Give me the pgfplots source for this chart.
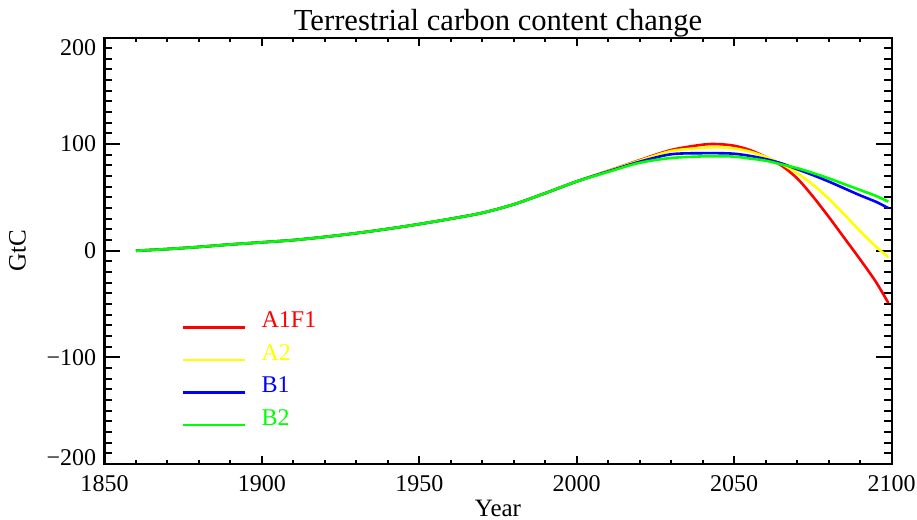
\documentclass[border=0pt]{standalone}
\usepackage{fontspec}
\setmainfont{Liberation Serif}
\usepackage{pgfplots}
\pgfplotsset{compat=1.18}
\definecolor{cR}{RGB}{255,0,0}
\definecolor{cY}{RGB}{255,255,0}
\definecolor{cB}{RGB}{0,0,255}
\definecolor{cG}{RGB}{0,255,0}
\begin{document}
\begin{tikzpicture}
\begin{axis}[name=ax, scale only axis, width=393.5pt, height=213.25pt,
 xmin=1850, xmax=2100, ymin=-200, ymax=200,
 xtick={1850,1900,1950,2000,2050,2100},
 xticklabels={1850,1900,1950,2000,2050,2100},
 ytick={-200,-100,0,100,200},
 yticklabels={\raisebox{3pt}[\height][\depth]{−200},−100,0,100,\raisebox{-5pt}[\height][\depth]{200}},
 minor x tick num=4, minor y tick num=9,
 tick align=inside,
 axis line style={line width=1pt},
 every tick/.style={black, line width=1pt},
 xtick style={/pgfplots/major tick length=4.25pt, /pgfplots/minor tick length=2.1pt},
 ytick style={/pgfplots/major tick length=7.85pt, /pgfplots/minor tick length=3.9pt},
 ticklabel style={font=\fontsize{12}{14}\selectfont},
 xticklabel style={yshift=-2.3pt},
 yticklabel style={xshift=-0.6pt},
 every axis title shift=0pt,
 title={Terrestrial carbon content change},
 title style={at={(rel axis cs:0.5,1.0176)}, anchor=base, font=\fontsize{15.3}{18}\selectfont},
 xlabel={Year},
 xlabel style={at={(rel axis cs:0.5,-0.1231)}, anchor=base, font=\fontsize{12.5}{14}\selectfont},
 ylabel={GtC},
 ylabel style={at={(rel axis cs:-0.1105,0.5)}, anchor=center, font=\fontsize{12.5}{14}\selectfont},
 legend style={at={(rel axis cs:0.0985,0.357)}, anchor=north west, draw=none, fill=none,
   inner sep=0pt, outer sep=0pt, row sep=7.9pt,
   nodes={inner sep=0pt, text height=7.9pt, text depth=0pt, font=\fontsize{12}{14}\selectfont},
   /tikz/every odd column/.style={column sep=7.5pt}},
 legend cell align=left,
 legend image code/.code={\draw[#1] (0pt,-3.8pt) -- (31pt,-3.8pt);},
]
\addplot[cR, line width=1.3pt, smooth] coordinates {
(1860,0) (1870,1.6) (1880,3.6) (1890,5.9) (1900,7.9) (1910,10) (1920,13) (1930,16.5)
(1940,20.5) (1950,25) (1960,30) (1970,35.5) (1980,43.5) (1990,54) (2000,65) (2010,75)
(2020,85) (2030,94.5) (2040,99.5) (2045,100) (2050,98.5) (2055,94.5) (2060,88) (2065,80)
(2070,68) (2075,51) (2080,32) (2085,12) (2090,-8) (2095,-29) (2099,-49)};
\addlegendentry{\textcolor{cR}{A1F1}}
\addplot[cY, line width=1.3pt, smooth] coordinates {
(1860,0) (1870,1.6) (1880,3.6) (1890,5.9) (1900,7.9) (1910,10) (1920,13) (1930,16.5)
(1940,20.5) (1950,25) (1960,30) (1970,35.5) (1980,43.5) (1990,54) (2000,65) (2010,75)
(2020,84.5) (2030,93.5) (2040,96.5) (2045,97) (2050,96) (2055,93) (2060,88) (2065,81.5)
(2070,73) (2075,62) (2080,49) (2085,34) (2090,18.5) (2095,4) (2099,-6)};
\addlegendentry{\textcolor{cY}{A2}}
\addplot[cB, line width=1.3pt, smooth] coordinates {
(1860,0) (1870,1.6) (1880,3.6) (1890,5.9) (1900,7.9) (1910,10) (1920,13) (1930,16.5)
(1940,20.5) (1950,25) (1960,30) (1970,35.5) (1980,43.5) (1990,54) (2000,65) (2010,74.5)
(2020,83.5) (2030,90.5) (2040,91.5) (2045,91.5) (2050,91) (2055,89) (2060,86) (2065,82)
(2070,76.5) (2075,71) (2080,65) (2085,58.5) (2090,52) (2095,46) (2099,40)};
\addlegendentry{\textcolor{cB}{B1}}
\addplot[cG, line width=1.3pt, smooth] coordinates {
(1860,0) (1870,1.6) (1880,3.6) (1890,5.9) (1900,7.9) (1910,10) (1920,13) (1930,16.5)
(1940,20.5) (1950,25) (1960,30) (1970,35.5) (1980,43.5) (1990,54) (2000,65) (2010,74)
(2020,82.5) (2030,87) (2040,88.5) (2045,88.5) (2050,88.3) (2055,86.5) (2060,84.5) (2065,81)
(2070,77.5) (2075,73) (2080,68) (2085,62.5) (2090,57) (2095,51.5) (2099,46)};
\addlegendentry{\textcolor{cG}{B2}}
\end{axis}
\pgfresetboundingbox
\path ([shift={(-52.25pt,-27.5pt)}]ax.south west) rectangle ([shift={(12.75pt,18.75pt)}]ax.north east);
\end{tikzpicture}
\end{document}
